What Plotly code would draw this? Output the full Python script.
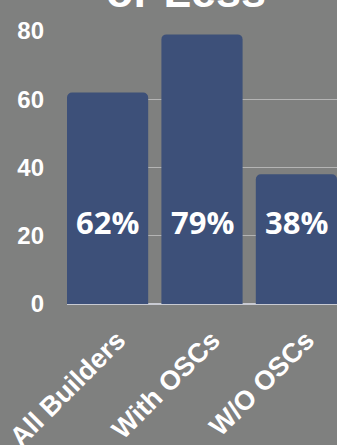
import plotly.graph_objects as go

categories = ["All Builders", "With OSCs", "W/O OSCs"]
values = [62, 79, 38]
value_labels = ["62%", "79%", "38%"]
label_y = 24
y_ticks = [0, 20, 40, 60, 80]
title_tail = "or Less"

bg = "#7f807f"
bar_color = "#3d5079"

fig = go.Figure()
fig.add_trace(go.Bar(
    x=categories, y=values, marker=dict(color=bar_color, cornerradius=5, line=dict(width=0)),
    width=0.86, hoverinfo="skip",
))
for c, t in zip(categories, value_labels):
    fig.add_annotation(x=c, y=label_y, text=t, showarrow=False,
                       font=dict(family="Open Sans", size=31, color="white", weight="bold"),
                       xanchor="center", yanchor="middle")

fig.add_annotation(xref="paper", yref="paper", x=0.44, y=1, xanchor="center", yanchor="bottom",
                   text=title_tail, showarrow=False, yshift=12,
                   font=dict(family="Liberation Sans", size=45, color="white", weight="bold"))

fig.update_layout(
    width=337, height=445,
    margin=dict(l=67, r=0, t=31, b=141, autoexpand=False),
    paper_bgcolor=bg, plot_bgcolor=bg,
    showlegend=False,
    bargap=0.14,
)
fig.update_xaxes(range=[-0.43, 2.43], tickangle=-45, showgrid=False, ticks="", automargin=False,
                 ticklabelshift=10, ticklabelstandoff=14,
                 tickfont=dict(family="Liberation Sans", size=27, color="white", weight="bold"),
                 showline=False, zeroline=False)
fig.update_yaxes(range=[0, 80], tickvals=y_ticks, showgrid=True, gridcolor="#b4b4b4", gridwidth=1,
                 automargin=False,
                 zeroline=True, zerolinecolor="#c8cad2", zerolinewidth=2, ticks="", ticklabelstandoff=22,
                 tickfont=dict(family="Liberation Sans", size=24, color="white", weight="bold"))

fig.write_html("out.html")
